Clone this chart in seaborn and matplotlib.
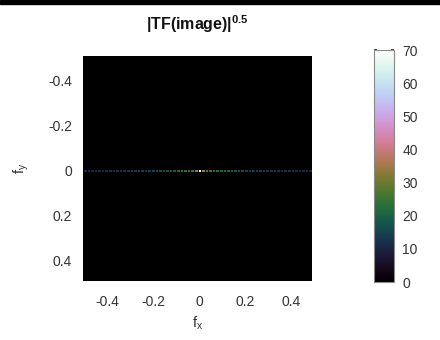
import numpy as np
import pandas as pd
import matplotlib
matplotlib.use("Agg")
import matplotlib.pyplot as plt
from matplotlib.patches import Rectangle
import seaborn as sns

# ---- data ----
n_cells = 64
fx_ticks = [-0.4, -0.2, 0, 0.2, 0.4]
fy_ticks = [-0.4, -0.2, 0, 0.2, 0.4]
tick_labels = ["-0.4", "-0.2", "0", "0.2", "0.4"]
cbar_ticks = [0, 10, 20, 30, 40, 50, 60, 70]
row_index_fy0 = 32
# |TF|^0.5 along the fy = 0 row, fx from -0.5 up to the centre, centre, then to +0.5
row_left = [11, 11, 10, 11, 11, 10, 11, 12, 12, 12, 12, 12, 13, 13, 13, 13,
            14, 14, 14, 15, 15, 16, 16, 17, 18, 19, 20, 22, 23, 24, 26, 33]
row_center = [70]
row_right = [34, 27, 25, 24, 23, 21, 20, 19, 18, 17, 16, 16, 15, 15, 14, 14,
             14, 13, 13, 13, 13, 12, 12, 12, 12, 12, 11, 10, 11, 11, 11]

row_values = row_left + row_center + row_right
grid = np.zeros((n_cells, n_cells))
grid[row_index_fy0, :] = row_values
df = pd.DataFrame(grid)

sns.set_theme(style="white")
plt.rcParams["font.family"] = ["Liberation Sans", "DejaVu Sans"]
plt.rcParams["mathtext.fontset"] = "custom"
plt.rcParams["mathtext.rm"] = "Liberation Sans"
plt.rcParams["mathtext.it"] = "Liberation Sans"
plt.rcParams["mathtext.bf"] = "Liberation Sans:bold"

txt = "#333333"
fig = plt.figure(figsize=(4.4, 3.4), dpi=100)
ax = fig.add_axes([83 / 440, 1 - 281 / 340, 229 / 440, 225 / 340])
cax = fig.add_axes([374 / 440, 1 - 282 / 340, 20 / 440, 232 / 340])

sns.heatmap(df, ax=ax, cmap="cubehelix", vmin=0, vmax=70, cbar=True, cbar_ax=cax,
            xticklabels=False, yticklabels=False, linewidths=0.6, linecolor="black")

centre = row_index_fy0 + 0.5
pos_x = [centre + t * n_cells for t in fx_ticks]
pos_y = [centre + t * n_cells for t in fy_ticks]
ax.set_xticks(pos_x)
ax.set_xticklabels(tick_labels)
ax.set_yticks(pos_y)
ax.set_yticklabels(tick_labels, rotation=0)
ax.tick_params(axis="x", direction="in", length=3, color="#555555",
               labelsize=10, labelcolor=txt, pad=10, bottom=True)
ax.tick_params(axis="y", direction="in", length=3, color="#555555",
               labelsize=10, labelcolor=txt, pad=8, left=True)
ax.set_xlabel(r"f$_\mathregular{x}$", fontsize=10.5, color=txt, labelpad=4)
ax.set_ylabel(r"f$_\mathregular{y}$", fontsize=10.5, color=txt, labelpad=12)
ax.set_title(r"$\mathbf{|TF(image)|^{0.5}}$", fontsize=11.5, color="#111111", pad=19)
for s in ax.spines.values():
    s.set_visible(False)

cbar = ax.collections[0].colorbar
cbar.set_ticks(cbar_ticks)
cbar.ax.tick_params(direction="in", length=2, color="#333333", labelsize=10,
                    labelcolor=txt, pad=6, left=True, right=True)
cbar.outline.set_visible(True)
cbar.outline.set_edgecolor("#888888")
cbar.outline.set_linewidth(0.8)

fig.patches.append(Rectangle((0, 1 - 3.5 / 340), 1, 3.5 / 340,
                             transform=fig.transFigure, color="black", zorder=10))

fig.savefig("out.png", dpi=100, facecolor="white")
